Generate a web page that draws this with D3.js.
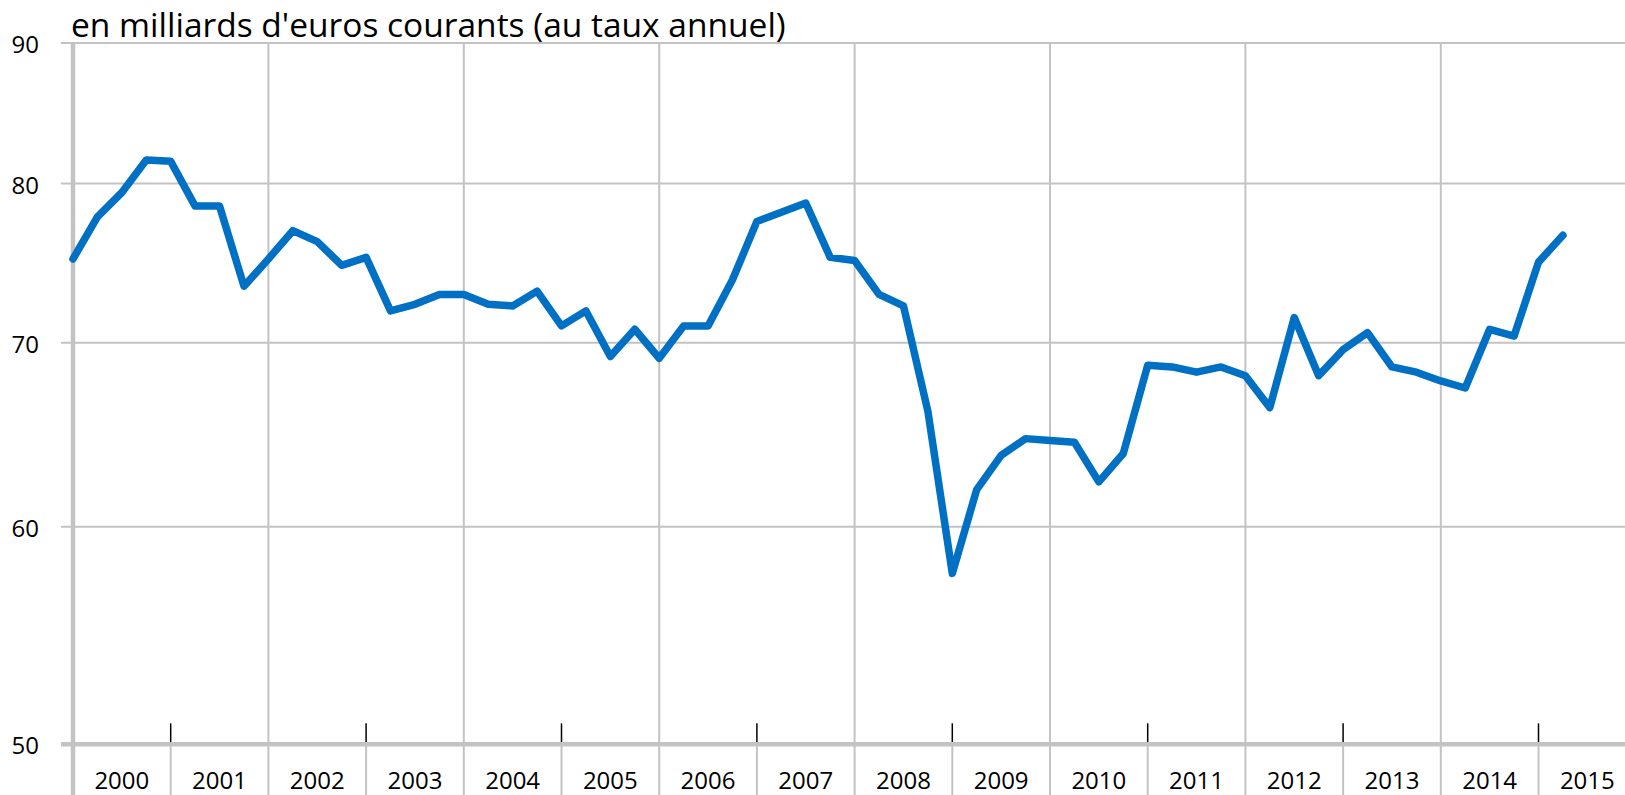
<!DOCTYPE html>
<html>
<head>
<meta charset="utf-8">
<script src="https://cdn.jsdelivr.net/npm/d3@7"></script>
<style>
  body { margin: 0; background: #fff; }
  svg { display: block; font-family: "Open Sans", "Noto Sans", sans-serif; }
</style>
</head>
<body>
<svg id="CHART"></svg>
<script>
// années affichées sous l'axe
var years = [2000, 2001, 2002, 2003, 2004, 2005, 2006, 2007,
             2008, 2009, 2010, 2011, 2012, 2013, 2014, 2015];

// valeurs trimestrielles, 2000T1 -> 2015T2
var values = [
  75.1, 77.8, 79.4, 81.6,
  81.5, 78.5, 78.5, 73.4,
  75.1, 76.9, 76.2, 74.7,
  75.2, 71.9, 72.3, 72.9,
  72.9, 72.3, 72.2, 73.1,
  71.0, 71.9, 69.2, 70.8,
  69.1, 71.0, 71.0, 73.8,
  77.5, 78.1, 78.7, 75.2,
  75.0, 72.9, 72.2, 66.1,
  57.7, 61.9, 63.7, 64.6,
  64.5, 64.4, 62.3, 63.8,
  68.7, 68.6, 68.3, 68.6,
  68.1, 66.3, 71.5, 68.1,
  69.6, 70.6, 68.6, 68.3,
  67.8, 67.4, 70.8, 70.4,
  74.9, 76.6
];

var yTicks = [50, 60, 70, 80, 90];
var title = "en milliards d'euros courants (au taux annuel)";

var chart = {
  draw: function () {
    var width = 1625;
    var height = 795;
    var left = 73;
    var top = 43;
    var axisY = 744.3;
    var yearW = 97.7;

    var svg = d3.select("#CHART")
      .attr("width", width)
      .attr("height", height);

    var x = d3.scaleLinear()
      .domain([years[0], years[years.length - 1] + 1])
      .range([left, left + years.length * yearW]);

    var y = d3.scaleLog()
      .domain([50, 90])
      .range([axisY, top]);

    // grille horizontale
    svg.append("g")
      .selectAll("line")
      .data(yTicks.slice(1))
      .join("line")
      .attr("x1", left - 12)
      .attr("x2", width)
      .attr("y1", function (d) { return y(d); })
      .attr("y2", function (d) { return y(d); })
      .attr("stroke", "#c3c3c3")
      .attr("stroke-width", 2);

    // séparateurs d'années
    var bounds = years.slice(1);
    svg.append("g")
      .selectAll("line")
      .data(bounds)
      .join("line")
      .attr("x1", function (d) { return x(d); })
      .attr("x2", function (d) { return x(d); })
      .attr("y1", function (d) { return d % 2 === 0 ? top : axisY; })
      .attr("y2", height)
      .attr("stroke", "#c3c3c3")
      .attr("stroke-width", 2);

    // petits repères noirs (années impaires)
    svg.append("g")
      .selectAll("line")
      .data(bounds.filter(function (d) { return d % 2 === 1; }))
      .join("line")
      .attr("x1", function (d) { return x(d); })
      .attr("x2", function (d) { return x(d); })
      .attr("y1", axisY - 21)
      .attr("y2", axisY - 1)
      .attr("stroke", "#000")
      .attr("stroke-width", 1.5);

    // axes
    svg.append("line")
      .attr("x1", left).attr("x2", left)
      .attr("y1", top).attr("y2", height)
      .attr("stroke", "#c3c3c3")
      .attr("stroke-width", 4.5);
    svg.append("line")
      .attr("x1", left - 12).attr("x2", width)
      .attr("y1", axisY).attr("y2", axisY)
      .attr("stroke", "#c3c3c3")
      .attr("stroke-width", 4.5);

    // libellés Y
    svg.append("g")
      .selectAll("text")
      .data(yTicks)
      .join("text")
      .attr("x", 39)
      .attr("y", function (d) { return y(d); })
      .attr("dy", "0.42em")
      .attr("text-anchor", "end")
      .style("font-size", "24px")
      .text(function (d) { return d; });

    // libellés années
    svg.append("g")
      .selectAll("text")
      .data(years)
      .join("text")
      .attr("x", function (d) { return x(d + 0.5); })
      .attr("y", 789)
      .attr("text-anchor", "middle")
      .style("font-size", "24px")
      .text(function (d) { return d; });

    // courbe
    var line = d3.line()
      .x(function (d, i) { return x(years[0] + i / 4); })
      .y(function (d) { return y(d); });

    svg.append("path")
      .datum(values)
      .attr("d", line)
      .attr("fill", "none")
      .attr("stroke", "#0070c5")
      .attr("stroke-width", 7.5)
      .attr("stroke-linejoin", "round")
      .attr("stroke-linecap", "round");

    // titre
    svg.append("text")
      .attr("x", 71)
      .attr("y", 37)
      .style("font-size", "33.5px")
      .text(title);
  }
};

chart.draw();
</script>
</body>
</html>
